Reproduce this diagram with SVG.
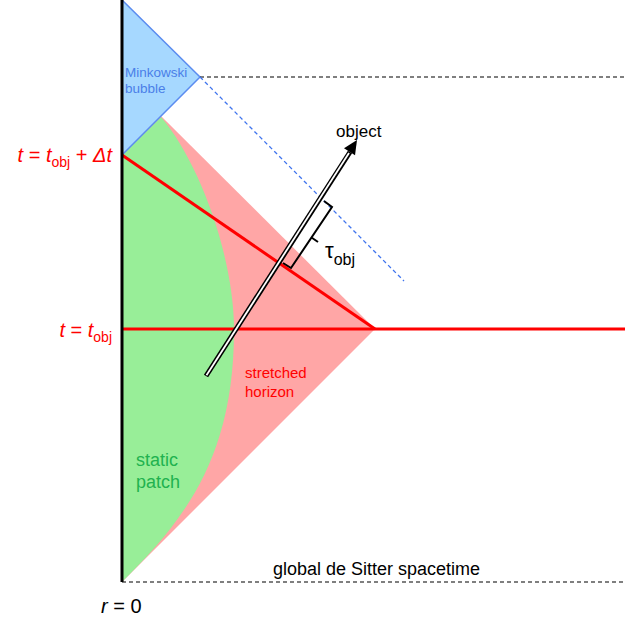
<svg xmlns="http://www.w3.org/2000/svg" width="625" height="622" viewBox="0 0 625 622">
<style>
text{font-family:"Liberation Sans",Arial,sans-serif}
.red{fill:#ff0000}
.it{font-style:italic}
.dash{stroke:#000;stroke-width:1.2;stroke-dasharray:4,3;fill:none}
</style>
<rect width="625" height="622" fill="#fff"/>
<g id="regions">
<polygon id="stretched-horizon-region" points="122,582 375,329 161,116 122,155" fill="#ffa6a6"/>
<path id="static-patch-region" d="M122,155 L161,117 C198,160 234,255 234,330 C234,460 182,522 122,582 Z" fill="#98ee98"/>
<polygon id="minkowski-bubble-region" points="122,0 200,77 122,155" fill="#a6d8ff" stroke="#5b8cf0" stroke-width="1.5"/>
</g>
<g id="connectors">
<line x1="122" y1="329" x2="625" y2="329" stroke="#ff0000" stroke-width="3"/>
<line x1="122" y1="155" x2="375" y2="329" stroke="#ff0000" stroke-width="3"/>
<line x1="200" y1="77" x2="625" y2="77" class="dash"/>
<line x1="122" y1="582" x2="625" y2="582" class="dash"/>
<line x1="200" y1="77" x2="404" y2="281" stroke="#3f74ee" stroke-width="1.3" stroke-dasharray="4,3"/>
<line x1="122" y1="0" x2="122" y2="582" stroke="#000" stroke-width="3"/>
<g id="object-worldline">
<line x1="206" y1="376" x2="350" y2="152" stroke="#000" stroke-width="5"/>
<line x1="206.5" y1="375.2" x2="349" y2="153" stroke="#fff" stroke-width="1.8"/>
<polygon points="357,140 355,155.3 344,148.3" fill="#000"/>
</g>
<path id="tau-bracket" d="M324,201 L332,207 L291,268 L283,263 M311.5,237.5 L318,242" fill="none" stroke="#000" stroke-width="2"/>
</g>
<g id="labels">
<text x="125" y="77" font-size="13.5" fill="#4a7fe8">Minkowski</text>
<text x="125" y="93" font-size="13.5" fill="#4a7fe8">bubble</text>
<text x="112" y="162" font-size="20" text-anchor="end" class="red"><tspan class="it">t</tspan> = <tspan class="it">t</tspan><tspan font-size="14" dy="5">obj</tspan><tspan dy="-5"> + </tspan><tspan class="it">Δt</tspan></text>
<text x="112" y="337" font-size="20" text-anchor="end" class="red"><tspan class="it">t</tspan> = <tspan class="it">t</tspan><tspan font-size="14" dy="5">obj</tspan></text>
<text x="336" y="137" font-size="17" fill="#000">object</text>
<text x="325" y="258" font-size="22" fill="#000">τ<tspan font-size="16" dy="7">obj</tspan></text>
<text x="245" y="378" font-size="15" class="red">stretched</text>
<text x="245" y="397" font-size="15" class="red">horizon</text>
<text x="136" y="466" font-size="18" fill="#21b24f">static</text>
<text x="136" y="488" font-size="18" fill="#21b24f">patch</text>
<text x="273" y="575" font-size="18" fill="#000">global de Sitter spacetime</text>
<text x="101" y="613" font-size="20" fill="#000"><tspan class="it">r</tspan> = 0</text>
</g>
</svg>
